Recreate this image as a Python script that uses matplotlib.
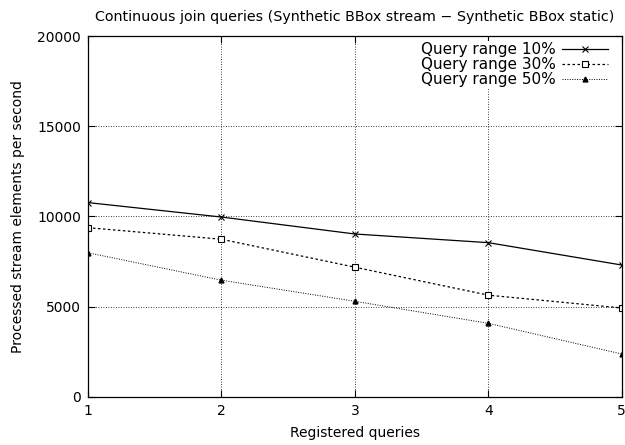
import matplotlib
matplotlib.use("Agg")
import matplotlib.pyplot as plt

queries = [1, 2, 3, 4, 5]
range_10 = [10770, 9970, 9030, 8550, 7310]
range_30 = [9380, 8740, 7190, 5640, 4930]
range_50 = [7990, 6470, 5300, 4080, 2380]
labels = ["Query range 10%", "Query range 30%", "Query range 50%"]

plt.rcParams["font.family"] = "DejaVu Sans"
plt.rcParams["font.size"] = 10

fig = plt.figure(figsize=(6.25, 4.45), dpi=100)
ax = fig.add_axes([0.1408, 0.108, 0.854, 0.811])

ax.plot(queries, range_10, color="black", lw=0.9, marker="x", ms=5, mew=0.8,
        label=labels[0])
ax.plot(queries, range_30, color="black", lw=0.9, ls=(0, (2, 2)), marker="s",
        ms=5, mfc="white", mew=0.8, label=labels[1])
ax.plot(queries, range_50, color="black", lw=0.7, ls=(0, (1, 1.5)), marker="^",
        ms=3.5, label=labels[2])

ax.set_xlim(1, 5)
ax.set_ylim(0, 20000)
ax.set_xticks(queries)
ax.set_yticks([0, 5000, 10000, 15000, 20000])
ax.grid(True, color="black", ls=(0, (1, 2)), lw=0.6)
ax.tick_params(direction="in", top=True, right=True, length=5, pad=5)
for s in ax.spines.values():
    s.set_linewidth(0.9)

ax.set_xlabel("Registered queries", labelpad=6)
ax.set_ylabel("Processed stream elements per second", labelpad=9)
ax.set_title("Continuous join queries (Synthetic BBox stream \u2212 Synthetic BBox static)",
             fontsize=10.3, pad=11)

leg = ax.legend(loc="upper right", frameon=True, fancybox=False, edgecolor="none",
                facecolor="white", markerfirst=False, handlelength=3,
                handletextpad=0.4, borderpad=0.1, labelspacing=0.0, fontsize=11,
                bbox_to_anchor=(0.985, 1.0), borderaxespad=0.3)
leg.get_frame().set_alpha(1)

fig.savefig("out.png", dpi=100)
